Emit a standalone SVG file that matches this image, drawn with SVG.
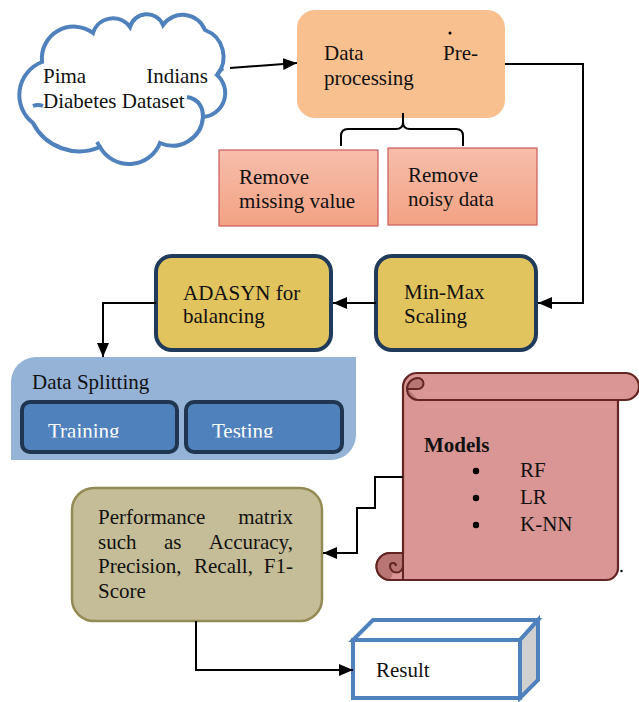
<svg xmlns="http://www.w3.org/2000/svg" width="639" height="702" viewBox="0 0 639 702">
  <style>
    text { font-family: "Liberation Serif", "Times New Roman", serif; font-size: 21px; fill: #111; }
    .conn { fill: none; stroke: #000; stroke-width: 2; }
    .yellow { fill: #E2C45E; stroke: #1F3A5A; stroke-width: 4; }
    .blue { fill: #4F81BD; stroke: #1F3550; stroke-width: 4; }
    .red { fill: url(#redGrad); stroke: #CB5B5B; stroke-width: 1.2; }
    .white { fill: #fff; }
  </style>
  <defs>
    <linearGradient id="redGrad" x1="0" y1="0" x2="0" y2="1">
      <stop offset="0" stop-color="#F6BEAB"/>
      <stop offset="1" stop-color="#F3A283"/>
    </linearGradient>
    <marker id="arrow" markerUnits="userSpaceOnUse" markerWidth="14" markerHeight="12" refX="14" refY="6" orient="auto">
      <path d="M0,0 L14,6 L0,12 Z" fill="#000"/>
    </marker>
    <clipPath id="splitClip">
      <rect x="0" y="0" width="639" height="437.5"/>
    </clipPath>
  </defs>

  <!-- Dataset cloud -->
  <g id="dataset">
    <path d="M42,62 A32 32 0 0 1 93,33 A21 21 0 0 1 130,27 A17.5 17.5 0 0 1 163,25 A24 24 0 0 1 205,30 A28.6 28.6 0 0 1 217,75 A24 24 0 0 1 203,117 A30.7 30.7 0 0 1 160,143 A33.3 33.3 0 0 1 100,147 A52 52 0 0 1 33,123 A35.4 35.4 0 0 1 42,62 Z" fill="#fff" stroke="#4F81BD" stroke-width="4"/>
    <path d="M187,97 Q203,100 203,117 M33,106 Q38,104 43,106 M97,142 Q99,145 100,148 M218,74 Q220,70 223,68" fill="none" stroke="#4F81BD" stroke-width="4"/>
    <text x="43" y="83">Pima</text>
    <text x="208" y="83" text-anchor="end">Indians</text>
    <text x="43" y="108">Diabetes Dataset</text>
  </g>

  <!-- Pre-processing -->
  <g id="preprocessing">
    <rect x="297" y="10" width="208" height="108" rx="18" fill="#F9C08F"/>
    <circle cx="450" cy="33" r="1.5" fill="#000"/>
    <text x="324" y="60">Data</text>
    <text x="443" y="60">Pre-</text>
    <text x="324" y="85">processing</text>
  </g>

  <g id="remove-missing">
    <rect class="red" x="219" y="150" width="159" height="76"/>
    <text x="239" y="184">Remove</text>
    <text x="239" y="208">missing value</text>
  </g>

  <g id="remove-noisy">
    <rect class="red" x="388" y="148" width="149" height="77"/>
    <text x="408" y="182">Remove</text>
    <text x="408" y="206">noisy data</text>
  </g>

  <g id="minmax">
    <rect class="yellow" x="376" y="256" width="160" height="94" rx="16"/>
    <text x="404" y="299">Min-Max</text>
    <text x="404" y="323">Scaling</text>
  </g>

  <g id="adasyn">
    <rect class="yellow" x="156" y="256" width="175" height="94" rx="16"/>
    <text x="183" y="300">ADASYN for</text>
    <text x="183" y="323">balancing</text>
  </g>

  <!-- Data splitting panel -->
  <g id="splitting">
    <path d="M36,357 H356 V435 A25 25 0 0 1 331,460 H11 V382 A25 25 0 0 1 36,357 Z" fill="#95B3D7"/>
    <text x="32" y="389">Data Splitting</text>
    <rect class="blue" x="22" y="402" width="155" height="50" rx="8"/>
    <rect class="blue" x="186" y="402" width="156" height="50" rx="8"/>
    <g clip-path="url(#splitClip)">
      <text x="48" y="437.5" style="fill:#fff">Training</text>
      <text x="212" y="437.5" style="fill:#fff">Testing</text>
    </g>
  </g>

  <!-- Models scroll -->
  <g id="models">
    <path d="M403,387 A14 14 0 0 1 417,373 H625.5 A13.5 13.5 0 0 1 625.5,400 H618 V568 A12 12 0 0 1 606,580 H390 A13.5 13.5 0 0 1 390,553 H403 Z" fill="#D99694" stroke="#632523" stroke-width="2.2"/>
    <path d="M418,400 H618" fill="none" stroke="#632523" stroke-width="2.2"/>
    <path d="M418,400 A11 11 0 0 1 418,378 A5.5 5.5 0 0 1 418,389 H408" fill="#B87573" stroke="#632523" stroke-width="2"/>
    <path d="M390,580 A13.5 13.5 0 0 1 390,553 H403 V566 A6.5 6.5 0 0 1 396.5,572.5 A6.5 6.5 0 0 1 390,566 A3 3 0 0 1 396,566" fill="#B87573" stroke="#632523" stroke-width="2"/>
    <path d="M390,580 H403 V566" fill="none" stroke="#632523" stroke-width="2"/>
    <circle cx="621.5" cy="571" r="1.2" fill="#000"/>
    <text x="424" y="452" style="font-weight:bold">Models</text>
    <circle cx="476" cy="471" r="3.2" fill="#000"/>
    <circle cx="476" cy="498" r="3.2" fill="#000"/>
    <circle cx="476" cy="525" r="3.2" fill="#000"/>
    <text x="520" y="477">RF</text>
    <text x="520" y="504">LR</text>
    <text x="520" y="531">K-NN</text>
  </g>

  <!-- Performance -->
  <g id="performance">
    <rect x="72" y="488" width="250" height="133" rx="22" fill="#C4BD97" stroke="#948A54" stroke-width="2.5"/>
    <text x="98" y="524">Performance</text>
    <text x="293" y="524" text-anchor="end">matrix</text>
    <text x="98" y="549">such</text>
    <text x="164" y="549">as</text>
    <text x="293" y="549" text-anchor="end">Accuracy,</text>
    <text x="98" y="573">Precision,</text>
    <text x="194" y="573">Recall,</text>
    <text x="293" y="573" text-anchor="end">F1-</text>
    <text x="98" y="598">Score</text>
  </g>

  <!-- Result box -->
  <g id="result">
    <polygon points="353,640 373,620 538,620 520,640" fill="#fff" stroke="#4F81BD" stroke-width="4" stroke-linejoin="miter"/>
    <polygon points="520,640 538,620 538,680 520,698" fill="#D0D0D0" stroke="#4F81BD" stroke-width="4"/>
    <rect x="353" y="640" width="167" height="58" fill="#fff" stroke="#4F81BD" stroke-width="4"/>
    <text x="376" y="677">Result</text>
  </g>

  <!-- Connectors -->
  <g id="connectors">
    <path class="conn" d="M230,68 L297,63" marker-end="url(#arrow)"/>
    <path class="conn" d="M505,64 H583 V303 H538" marker-end="url(#arrow)"/>
    <path class="conn" d="M403,113 V122 Q403,129 396,129 H348 Q341,129 341,136 V146 M403,122 Q403,129 410,129 H456 Q463,129 463,136 V146"/>
    <path class="conn" d="M376,303 H333" marker-end="url(#arrow)"/>
    <path class="conn" d="M156,303 H103 V357" marker-end="url(#arrow)"/>
    <path class="conn" d="M403,477 H375 V508 H357 V553 H323" marker-end="url(#arrow)"/>
    <path class="conn" d="M196,621 V670 H353" marker-end="url(#arrow)"/>
  </g>
</svg>
